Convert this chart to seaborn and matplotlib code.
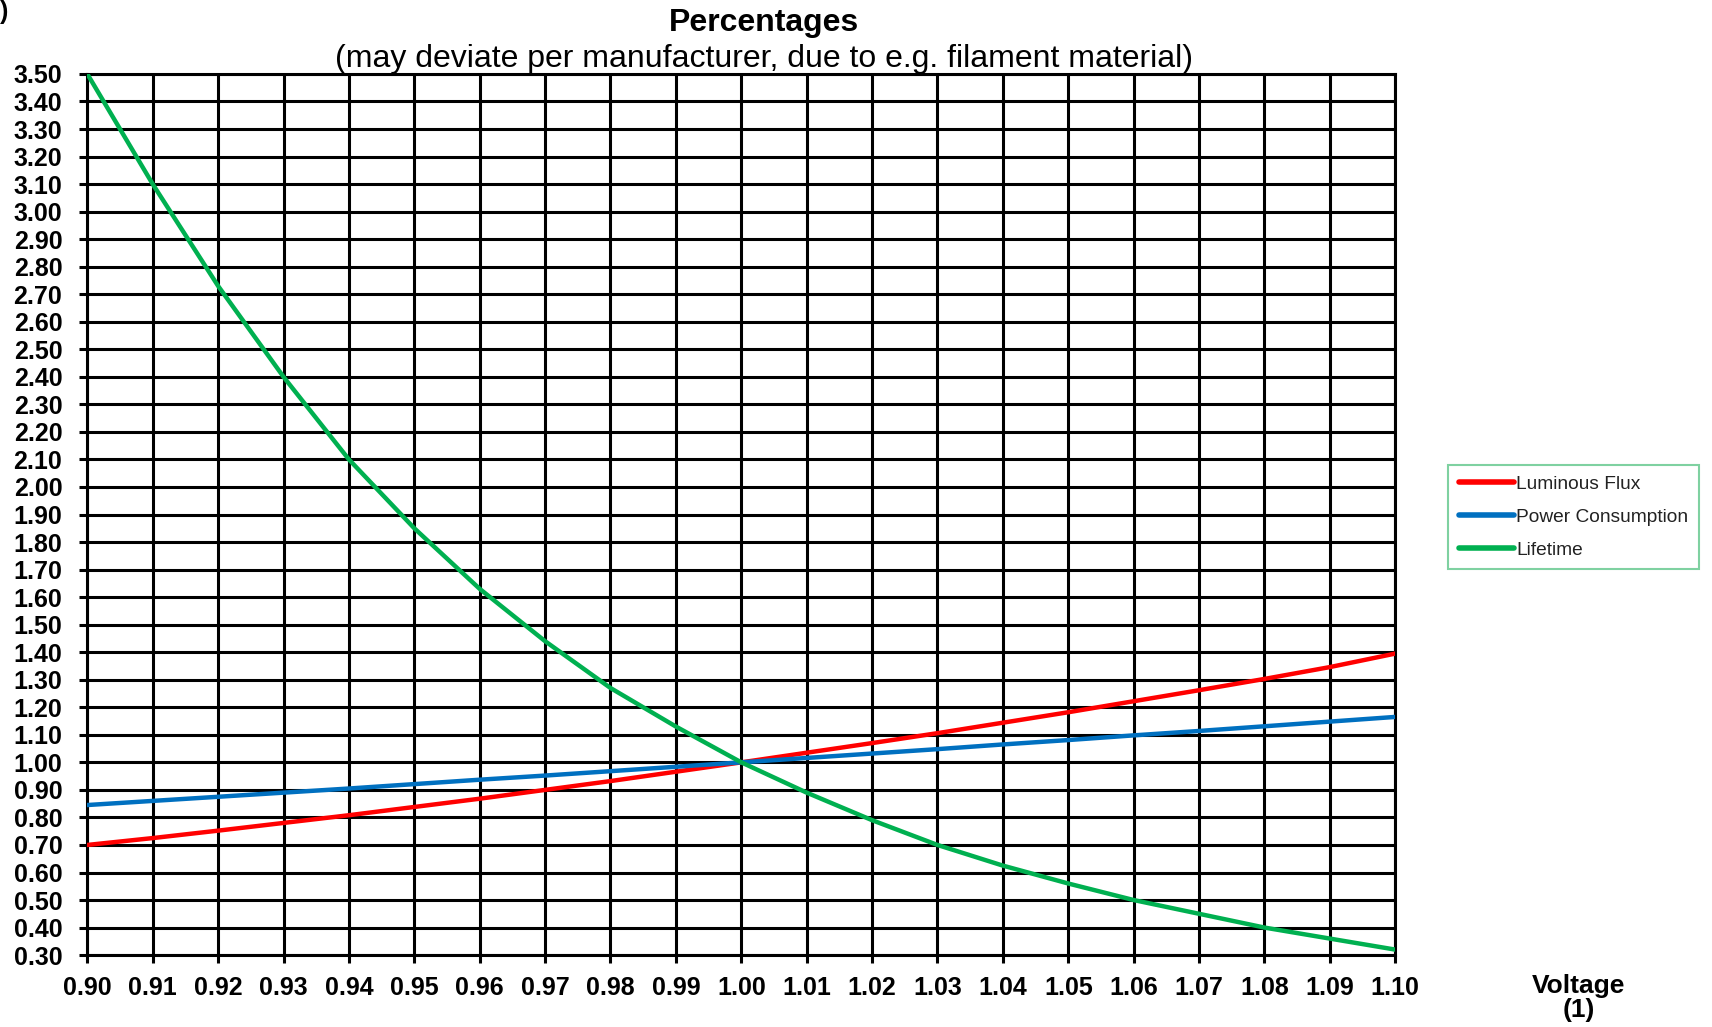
import numpy as np
import pandas as pd
import matplotlib
matplotlib.use("Agg")
import matplotlib.pyplot as plt
import seaborn as sns

# Relative voltage (x axis)
voltage = [0.90, 0.91, 0.92, 0.93, 0.94, 0.95, 0.96, 0.97, 0.98, 0.99, 1.00,
           1.01, 1.02, 1.03, 1.04, 1.05, 1.06, 1.07, 1.08, 1.09, 1.10]

# Values
luminous_flux = [0.70, 0.725, 0.752, 0.780, 0.808, 0.838, 0.868, 0.900, 0.932, 0.966, 1.00,
                 1.035, 1.070, 1.106, 1.144, 1.182, 1.222, 1.262, 1.303, 1.346, 1.395]
power_consumption = [0.845, 0.860, 0.875, 0.890, 0.905, 0.921, 0.937, 0.952, 0.968, 0.984, 1.00,
                     1.016, 1.032, 1.048, 1.065, 1.081, 1.098, 1.114, 1.131, 1.148, 1.165]
lifetime = [3.50, 3.10, 2.73, 2.40, 2.10, 1.85, 1.63, 1.44, 1.27, 1.13, 1.00,
            0.89, 0.79, 0.70, 0.625, 0.56, 0.50, 0.45, 0.40, 0.36, 0.32]

series_names = ["Luminous Flux", "Power Consumption", "Lifetime"]
series_colors = ["#ff0000", "#0070c0", "#00b050"]

x_ticks = [round(0.90 + 0.01 * i, 2) for i in range(21)]
y_ticks = [round(0.30 + 0.10 * i, 2) for i in range(33)]

df = pd.DataFrame({
    "Voltage": voltage * 3,
    "Value": luminous_flux + power_consumption + lifetime,
    "Series": [series_names[0]] * 21 + [series_names[1]] * 21 + [series_names[2]] * 21,
})

sns.set_theme(style="white")
plt.rcParams["font.family"] = ["Liberation Sans", "DejaVu Sans"]
plt.rcParams["text.color"] = "black"

fig = plt.figure(figsize=(17.12, 10.27), dpi=100)
ax = fig.add_axes([0.051, 0.070, 0.764, 0.858])

sns.lineplot(data=df, x="Voltage", y="Value", hue="Series",
             palette=dict(zip(series_names, series_colors)),
             linewidth=3.2, ax=ax, zorder=3)

ax.set_xlim(0.90, 1.10)
ax.set_ylim(0.30, 3.50)
ax.set_xticks(x_ticks)
ax.set_yticks(y_ticks)
ax.set_xticklabels([f"{v:.2f}" for v in x_ticks], fontsize=18, fontweight="bold", color="black")
ax.set_yticklabels([f"{v:.2f}" for v in y_ticks], fontsize=18, fontweight="bold", color="black")
ax.grid(True, color="black", linewidth=2.2)
ax.set_axisbelow(True)
for sp in ax.spines.values():
    sp.set_color("black")
    sp.set_linewidth(2.2)
ax.tick_params(axis="both", which="major", length=6, width=2.2, color="black",
               direction="out", bottom=True, left=True)
ax.tick_params(axis="y", pad=12)
ax.tick_params(axis="x", pad=9)
ax.set_xlabel("")
ax.set_ylabel("")

leg = ax.legend(loc="upper left", bbox_to_anchor=(1.0405, 0.556), frameon=True,
                fontsize=13.8, handlelength=2.9, handletextpad=0.1,
                borderpad=0.55, labelspacing=0.8, fancybox=False, borderaxespad=0)
leg.get_frame().set_edgecolor("#5fc68a")
leg.get_frame().set_linewidth(1.5)
for line in leg.get_lines():
    line.set_linewidth(4)
for t in leg.get_texts():
    t.set_color("#222222")

fig.text(0.446, 0.978, "Percentages", ha="center", va="center",
         fontsize=23, fontweight="bold")
fig.text(0.446, 0.943, "(may deviate per manufacturer, due to e.g. filament material)",
         ha="center", va="center", fontsize=23)
fig.text(0.922, 0.028, "Voltage\n(1)", ha="center", va="center",
         fontsize=19, fontweight="bold", linespacing=1.0)
fig.text(0.0, 0.988, ")", ha="left", va="center", fontsize=18, fontweight="bold")

fig.savefig("out.png", dpi=100)
